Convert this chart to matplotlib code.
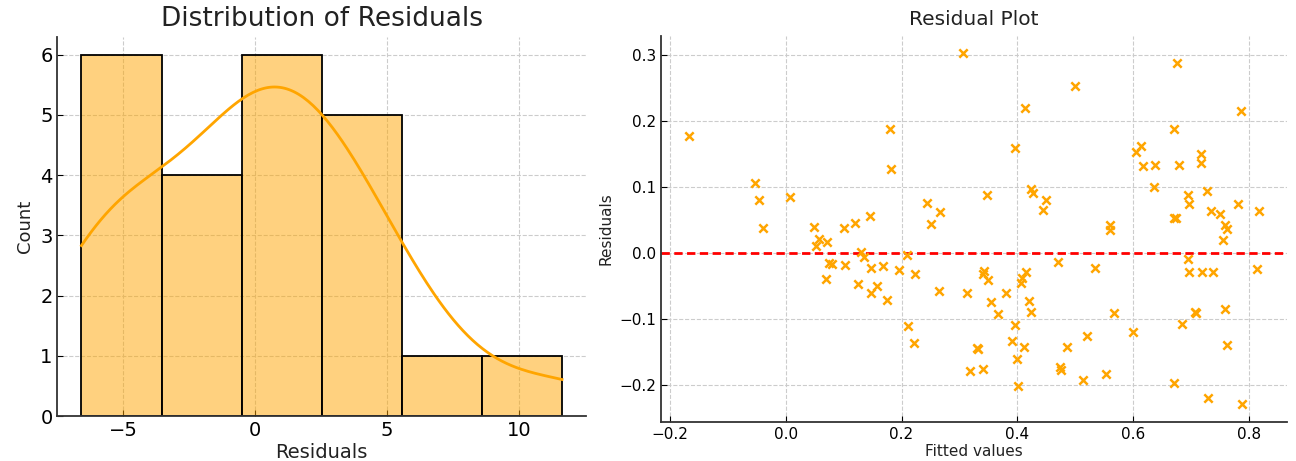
import numpy as np
import matplotlib
matplotlib.use("Agg")
import matplotlib.pyplot as plt
from matplotlib.ticker import MultipleLocator
import seaborn as sns

# residuals used for the histogram (left panel)
hist_residuals = [-6.58, -6.3, -6.0, -5.4, -4.6, -3.9,
                  -2.6, -1.6, -1.0, -0.7,
                  -0.2, 0.4, 0.7, 1.0, 1.4, 2.0,
                  2.7, 3.2, 3.8, 4.5, 5.3,
                  7.0,
                  11.64]

# fitted values vs residuals (right panel)
fitted = [-0.167, -0.054, -0.047, -0.039, 0.007, 0.049, 0.058, 0.052, 0.072, 0.100,
          0.120, 0.146, 0.180, 0.182, 0.244, 0.251, 0.266, 0.306, 0.676, 0.500,
          0.413, 0.786, 0.396, 0.671, 0.613, 0.605, 0.617, 0.638, 0.680, 0.717,
          0.717, 0.636, 0.348, 0.424, 0.427, 0.450, 0.444, 0.560, 0.561, 0.695,
          0.728, 0.697, 0.781, 0.817, 0.734, 0.751, 0.670, 0.675, 0.759, 0.763,
          0.756, 0.471, 0.534, 0.695, 0.697, 0.719, 0.738, 0.815, 0.343, 0.341,
          0.350, 0.313, 0.355, 0.366, 0.380, 0.415, 0.408, 0.407, 0.420, 0.423,
          0.396, 0.391, 0.411, 0.399, 0.402, 0.330, 0.332, 0.318, 0.341, 0.486,
          0.521, 0.474, 0.475, 0.513, 0.554, 0.567, 0.600, 0.684, 0.707, 0.708,
          0.759, 0.763, 0.671, 0.730, 0.788, 0.130, 0.135, 0.210, 0.075, 0.079,
          0.102, 0.147, 0.168, 0.196, 0.223, 0.069, 0.124, 0.158, 0.148, 0.175,
          0.264, 0.211, 0.221]
resid = [0.178, 0.106, 0.081, 0.038, 0.086, 0.039, 0.022, 0.011, 0.017, 0.038,
         0.046, 0.057, 0.189, 0.127, 0.076, 0.045, 0.062, 0.303, 0.289, 0.254,
         0.221, 0.215, 0.160, 0.188, 0.163, 0.153, 0.132, 0.134, 0.134, 0.150,
         0.137, 0.100, 0.089, 0.098, 0.092, 0.081, 0.066, 0.043, 0.035, 0.088,
         0.094, 0.074, 0.075, 0.064, 0.064, 0.059, 0.054, 0.054, 0.043, 0.037,
         0.020, -0.014, -0.023, -0.009, -0.028, -0.028, -0.028, -0.024, -0.027, -0.031,
         -0.040, -0.060, -0.074, -0.092, -0.061, -0.029, -0.037, -0.045, -0.073, -0.089,
         -0.109, -0.133, -0.142, -0.161, -0.202, -0.144, -0.146, -0.179, -0.176, -0.142,
         -0.125, -0.172, -0.177, -0.193, -0.184, -0.091, -0.119, -0.108, -0.089, -0.091,
         -0.084, -0.139, -0.197, -0.220, -0.229, 0.002, -0.006, -0.003, -0.015, -0.016,
         -0.018, -0.022, -0.020, -0.025, -0.032, -0.039, -0.046, -0.049, -0.060, -0.071,
         -0.058, -0.111, -0.136]

plt.rcParams['font.family'] = ['DejaVu Sans']
plt.rcParams['text.color'] = '#222222'
plt.rcParams['axes.labelcolor'] = '#222222'

fig = plt.figure(figsize=(12.96, 4.61), dpi=100)
ax1 = fig.add_axes([0.0443, 0.0976, 0.4079, 0.8228])
ax2 = fig.add_axes([0.5098, 0.0853, 0.4833, 0.8367])

# left: histogram + kde
sns.histplot(hist_residuals, bins=6, kde=True, color='orange', alpha=0.5,
             edgecolor='black', linewidth=1.3, ax=ax1,
             line_kws={'linewidth': 2})
ax1.set_title("Distribution of Residuals", fontsize=19, pad=8)
ax1.set_xlabel("Residuals", fontsize=14, labelpad=2)
ax1.set_ylabel("Count", fontsize=13)
ax1.xaxis.set_major_locator(MultipleLocator(5))
ax1.tick_params(labelsize=14, direction='in', length=4)

# right: residual plot
ax2.scatter(fitted, resid, marker='x', color='orange', s=36, linewidths=1.8, zorder=3)
ax2.axhline(0, color='red', linestyle='--', linewidth=2, dashes=(3, 1.6), zorder=2)
ax2.set_title("Residual Plot", fontsize=14.5, pad=8)
ax2.set_xlabel("Fitted values", fontsize=11, labelpad=2)
ax2.set_ylabel("Residuals", fontsize=11)
ax2.tick_params(labelsize=11, direction='in', length=4)

for ax in (ax1, ax2):
    ax.grid(True, color='#cccccc', linestyle='--', linewidth=0.8)
    ax.set_axisbelow(True)
    for s in ('top', 'right'):
        ax.spines[s].set_visible(False)
    for s in ('left', 'bottom'):
        ax.spines[s].set_color('#333333')
        ax.spines[s].set_linewidth(1.3)

fig.savefig("out.png", dpi=100)
